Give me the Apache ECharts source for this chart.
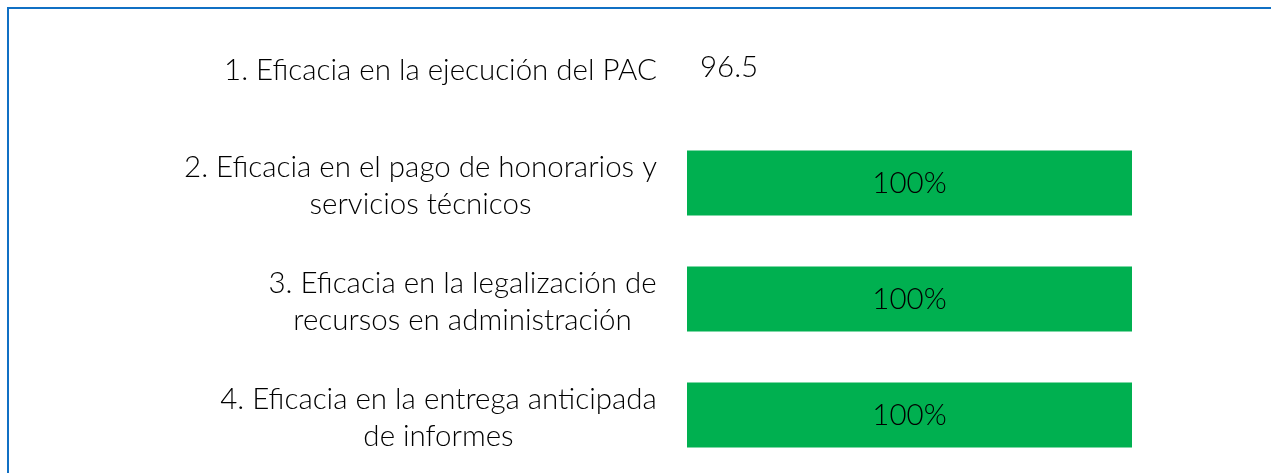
<!DOCTYPE html>
<html>
<head>
<meta charset="utf-8">
<script src="https://cdn.jsdelivr.net/npm/echarts@6/dist/echarts.min.js"></script>
<style>
  html, body { margin: 0; padding: 0; background: #fff; }
  #chart { width: 1271px; height: 473px; }
</style>
</head>
<body>
<div id="chart"></div>
<script>
// indicadores (cada línea = un renglón de la etiqueta)
const categories = [
  ['1. Eficacia en la ejecución del PAC'],
  ['2. Eficacia en el pago de honorarios y', 'servicios técnicos'],
  ['3. Eficacia en la legalización de', 'recursos en administración'],
  ['4. Eficacia en la entrega anticipada', 'de informes']
]
const values = [96.5, 100, 100, 100]
// el primer indicador se muestra solo como número, sin barra
const showBar = [false, true, true, true]
const valueLabels = ['96.5', '100%', '100%', '100%']

const FONT = 'Lato'
const FONT_SIZE = 29.5
const FONT_WEIGHT = 300

// ancho de cada bloque de etiqueta, para centrar las líneas dentro del bloque
const ctx = document.createElement('canvas').getContext('2d')
ctx.font = `${FONT_WEIGHT} ${FONT_SIZE}px ${FONT}`
const rich = {}
categories.forEach((lines, i) => {
  rich['r' + i] = {
    width: Math.ceil(Math.max(...lines.map(l => ctx.measureText(l).width))),
    align: 'center',
    fontFamily: FONT,
    fontSize: FONT_SIZE,
    fontWeight: FONT_WEIGHT,
    lineHeight: 37,
    color: '#000'
  }
})

const chart = echarts.init(document.getElementById('chart'))

const option = {
  animation: false,
  grid: { left: 687, right: 139, top: 9, height: 470 },
  xAxis: { type: 'value', min: 0, max: 100, show: false },
  yAxis: {
    type: 'category',
    inverse: true,
    data: categories.map((_, i) => String(i)),
    axisLine: { show: false },
    axisTick: { show: false },
    axisLabel: {
      margin: 30,
      padding: [6, 0, 0, 0],
      formatter: v => categories[+v].map(l => `{r${v}|${l}}`).join('\n'),
      rich
    }
  },
  series: [
    {
      type: 'bar',
      barWidth: 65,
      data: values.map((v, i) => ({
        value: v,
        itemStyle: { color: showBar[i] ? '#00B050' : 'rgba(0,0,0,0)' },
        label: showBar[i]
          ? { position: 'inside' }
          : { position: 'insideLeft', distance: 13 }
      })),
      label: {
        show: true,
        color: '#000',
        fontFamily: FONT,
        fontSize: FONT_SIZE,
        fontWeight: FONT_WEIGHT,
        padding: [6, 0, 0, 0],
        formatter: p => valueLabels[p.dataIndex]
      }
    }
  ],
  graphic: [
    { type: 'line', shape: { x1: 8, y1: 8, x2: 1271, y2: 8 }, style: { stroke: '#1070C4', lineWidth: 2 } },
    { type: 'line', shape: { x1: 8, y1: 7, x2: 8, y2: 473 }, style: { stroke: '#1070C4', lineWidth: 2 } }
  ]
}

chart.setOption(option)
</script>
</body>
</html>
